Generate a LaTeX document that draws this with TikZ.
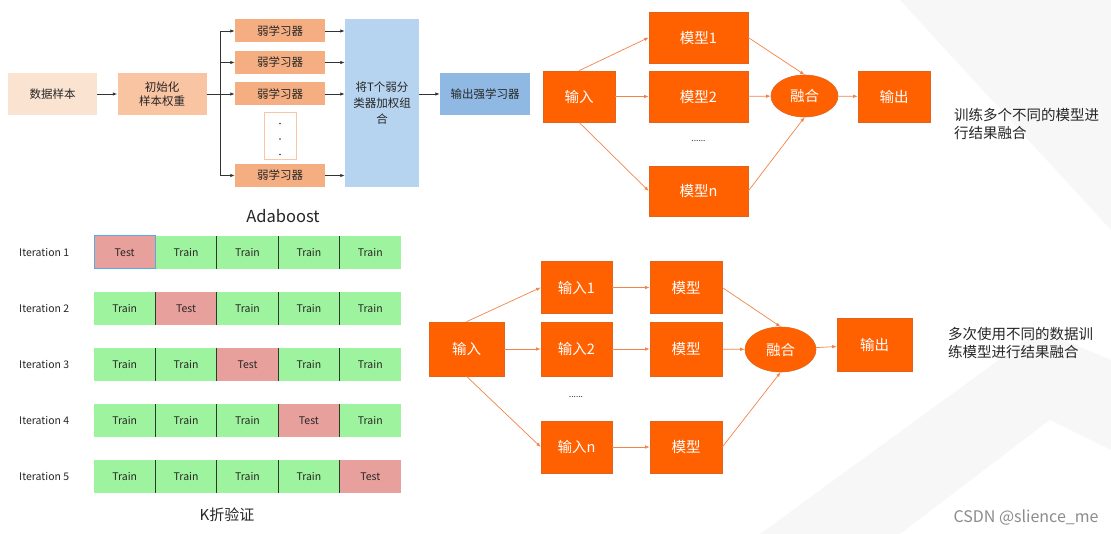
\documentclass[tikz,border=0pt]{standalone}
\usepackage{fontspec}
\setmainfont{Noto Sans CJK SC}
\usetikzlibrary{shapes.geometric,arrows.meta}

\definecolor{sampleFill}{HTML}{FBE3D1}
\definecolor{initFill}{HTML}{F8C4A2}
\definecolor{weakFill}{HTML}{F4AE82}
\definecolor{combineFill}{HTML}{B6D4EF}
\definecolor{strongFill}{HTML}{8FB9E3}
\definecolor{boxOrange}{HTML}{FF6000}
\definecolor{edgeOrange}{HTML}{E0641E}
\definecolor{lineOrange}{HTML}{F2844A}
\definecolor{trainFill}{HTML}{9EF49E}
\definecolor{testFill}{HTML}{E8A09C}
\definecolor{testEdge}{HTML}{5AA8E6}
\definecolor{foldEdge}{HTML}{2C3C2C}
\definecolor{bgShade}{HTML}{F7F7F7}

\tikzset{
  adabox/.style={minimum width=89pt, minimum height=42pt, inner sep=1pt, align=center,
    text=black!85, font=\fontsize{11.5}{14.5}\selectfont},
  weakbox/.style={fill=weakFill, minimum width=90pt, minimum height=23pt, inner sep=0pt,
    text=black!85, font=\fontsize{11.5}{14}\selectfont},
  adaarrow/.style={-{Latex[length=4.5pt,width=3.5pt]}, line width=0.8pt, draw=black!80},
  orangebox/.style={fill=boxOrange, draw=edgeOrange, line width=0.6pt, inner sep=0pt,
    text=white, font=\fontsize{14.5}{16}\selectfont},
  fusenode/.style={ellipse, fill=boxOrange, draw=edgeOrange, line width=0.6pt, inner sep=0pt,
    text=white, font=\fontsize{14.5}{16}\selectfont},
  orangearrow/.style={-{Latex[length=4.5pt,width=3.5pt]}, line width=0.7pt, draw=lineOrange},
  foldcell/.style={minimum width=61.4pt, minimum height=33pt, inner sep=0pt, outer sep=0pt,
    text=black!85, font=\fontsize{10.5}{12}\selectfont},
  iterlabel/.style={anchor=west, inner sep=0pt, text=black!85, font=\fontsize{10.5}{12}\selectfont},
  notetext/.style={anchor=west, align=left, inner sep=0pt, text=black!85,
    font=\fontsize{14.5}{18}\selectfont},
}

\begin{document}
\begin{tikzpicture}[x=1pt, y=-1pt]
% Background
\fill[white] (0,0) rectangle (1111,534);
\useasboundingbox (0,0) rectangle (1111,534);
\fill[bgShade] (900,0) -- (1111,0) -- (1111,230) -- cycle;
\fill[bgShade] (760,534) -- (1040,330) -- (1111,360) -- (1111,534) -- cycle;
\fill[white] (900,534) -- (1050,420) -- (1111,450) -- (1111,534) -- cycle;

% Adaboost
\node[adabox, fill=sampleFill] (sample) at (52.5,94) {数据样本};
\node[adabox, fill=initFill] (init) at (162,94) {初始化\\样本权重};
\node[weakbox] (weak1) at (280,31) {弱学习器};
\node[weakbox] (weak2) at (280,62.5) {弱学习器};
\node[weakbox] (weak3) at (280,94) {弱学习器};
\node[draw=weakFill!70, fill=white, line width=0.6pt, minimum width=32pt, minimum height=47pt] (gap) at (280,135.5) {};
\fill[black!80] (280,123.5) circle (0.9) (280,139) circle (0.9) (280,154.5) circle (0.9);
\node[weakbox] (weak5) at (280,175.5) {弱学习器};
\node[fill=combineFill, minimum width=74pt, minimum height=168pt, inner sep=0pt, align=center,
  text=black!85, font=\fontsize{11.5}{16}\selectfont] (combine) at (382,103) {将T个弱分\\类器加权组\\合};
\node[adabox, fill=strongFill, minimum width=90pt] (strong) at (485,94) {输出强学习器};
\node[font=\fontsize{16.5}{18}\selectfont, text=black!85] (adaname) at (283,216) {Adaboost};

\coordinate (split) at (220,94);
\draw[adaarrow] (sample) -- (init);
\draw[adaarrow] (init) -- (weak3);
\draw[adaarrow] (split) |- (weak1.west);
\draw[adaarrow] (split) |- (weak2.west);
\draw[adaarrow] (split) |- (weak5.west);
\foreach \w in {weak1,weak2,weak3,weak5}
  \draw[adaarrow] (\w.east) -- (\w.east -| combine.west);
\draw[adaarrow] (strong.west -| combine.east) -- (strong.west);

% Models fused
\node[orangebox, minimum width=72pt, minimum height=51pt] (in) at (579,96.5) {输入};
\node[orangebox, minimum width=99pt, minimum height=51pt] (model1) at (698.5,37.5) {模型1};
\node[orangebox, minimum width=99pt, minimum height=51pt] (model2) at (698.5,96.5) {模型2};
\node[orangebox, minimum width=99pt, minimum height=50pt] (modeln) at (698.5,191) {模型n};
\node[font=\fontsize{8.5}{10}\selectfont, text=black!80] (mdots) at (698.5,141) {......};
\node[fusenode, minimum width=67pt, minimum height=42pt] (fuse) at (804.5,96) {融合};
\node[orangebox, minimum width=72pt, minimum height=51pt] (out) at (894,96.5) {输出};
\node[notetext] (note1) at (954,123.5) {训练多个不同的模型进\\行结果融合};

\draw[orangearrow] (in.north) -- (model1.west);
\draw[orangearrow] (in) -- (model2);
\draw[orangearrow] (in.south) -- (modeln.west);
\draw[orangearrow] (model1.east) -- (fuse.north);
\draw[orangearrow] (model2) -- (fuse);
\draw[orangearrow] (modeln.east) -- (fuse.south);
\draw[orangearrow] (fuse) -- (out);

% Data fused
\node[orangebox, minimum width=75pt, minimum height=54pt] (bin) at (466.5,349) {输入};
\node[orangebox, minimum width=71pt, minimum height=52pt] (bin1) at (576.5,287.5) {输入1};
\node[orangebox, minimum width=71pt, minimum height=54pt] (bin2) at (576.5,349) {输入2};
\node[orangebox, minimum width=71pt, minimum height=52pt] (binn) at (576.5,447) {输入n};
\node[orangebox, minimum width=72pt, minimum height=52pt] (bmodel1) at (686,287.5) {模型};
\node[orangebox, minimum width=72pt, minimum height=54pt] (bmodel2) at (686,349) {模型};
\node[orangebox, minimum width=72pt, minimum height=52pt] (bmodeln) at (686,447) {模型};
\node[font=\fontsize{8.5}{10}\selectfont, text=black!80] (bdots) at (576,397) {......};
\node[fusenode, minimum width=71pt, minimum height=45pt] (bfuse) at (780.5,349.5) {融合};
\node[orangebox, minimum width=75pt, minimum height=53pt] (bout) at (874.5,344.5) {输出};
\node[notetext] (note2) at (948,343) {多次使用不同的数据训\\练模型进行结果融合};

\draw[orangearrow] (bin.north) -- (bin1.west);
\draw[orangearrow] (bin) -- (bin2);
\draw[orangearrow] (bin.south) -- (binn.west);
\draw[orangearrow] (bin1) -- (bmodel1);
\draw[orangearrow] (bin2) -- (bmodel2);
\draw[orangearrow] (binn) -- (bmodeln);
\draw[orangearrow] (bmodel1.east) -- (bfuse.north);
\draw[orangearrow] (bmodel2) -- (bfuse);
\draw[orangearrow] (bmodeln.east) -- (bfuse.south);
\draw[orangearrow] (bfuse) -- (bout);

% K-fold
\foreach \r in {1,...,5} {
  \node[iterlabel] (iter\r) at (19,{252.5+56*(\r-1)}) {Iteration \r};
  \foreach \c in {1,...,5} {
    \ifnum\c=\r
      \node[foldcell, fill=testFill] (cell\r\c) at ({124.7+61.4*(\c-1)},{252.5+56*(\r-1)}) {Test};
    \else
      \node[foldcell, fill=trainFill] (cell\r\c) at ({124.7+61.4*(\c-1)},{252.5+56*(\r-1)}) {Train};
    \fi
  }
  \foreach \c in {1,...,4}
    \draw[foldEdge, line width=0.9pt] (cell\r\c.north east) -- (cell\r\c.south east);
}
\draw[testEdge, line width=1pt] (cell11.north west) rectangle (cell11.south east);
\node[font=\fontsize{15}{18}\selectfont, text=black!85] (kfold) at (227,515) {K折验证};

% Watermark
\node[font=\fontsize{16}{18}\selectfont, text=black!45] (mark) at (1026,518) {CSDN @slience\_me};
\end{tikzpicture}
\end{document}
